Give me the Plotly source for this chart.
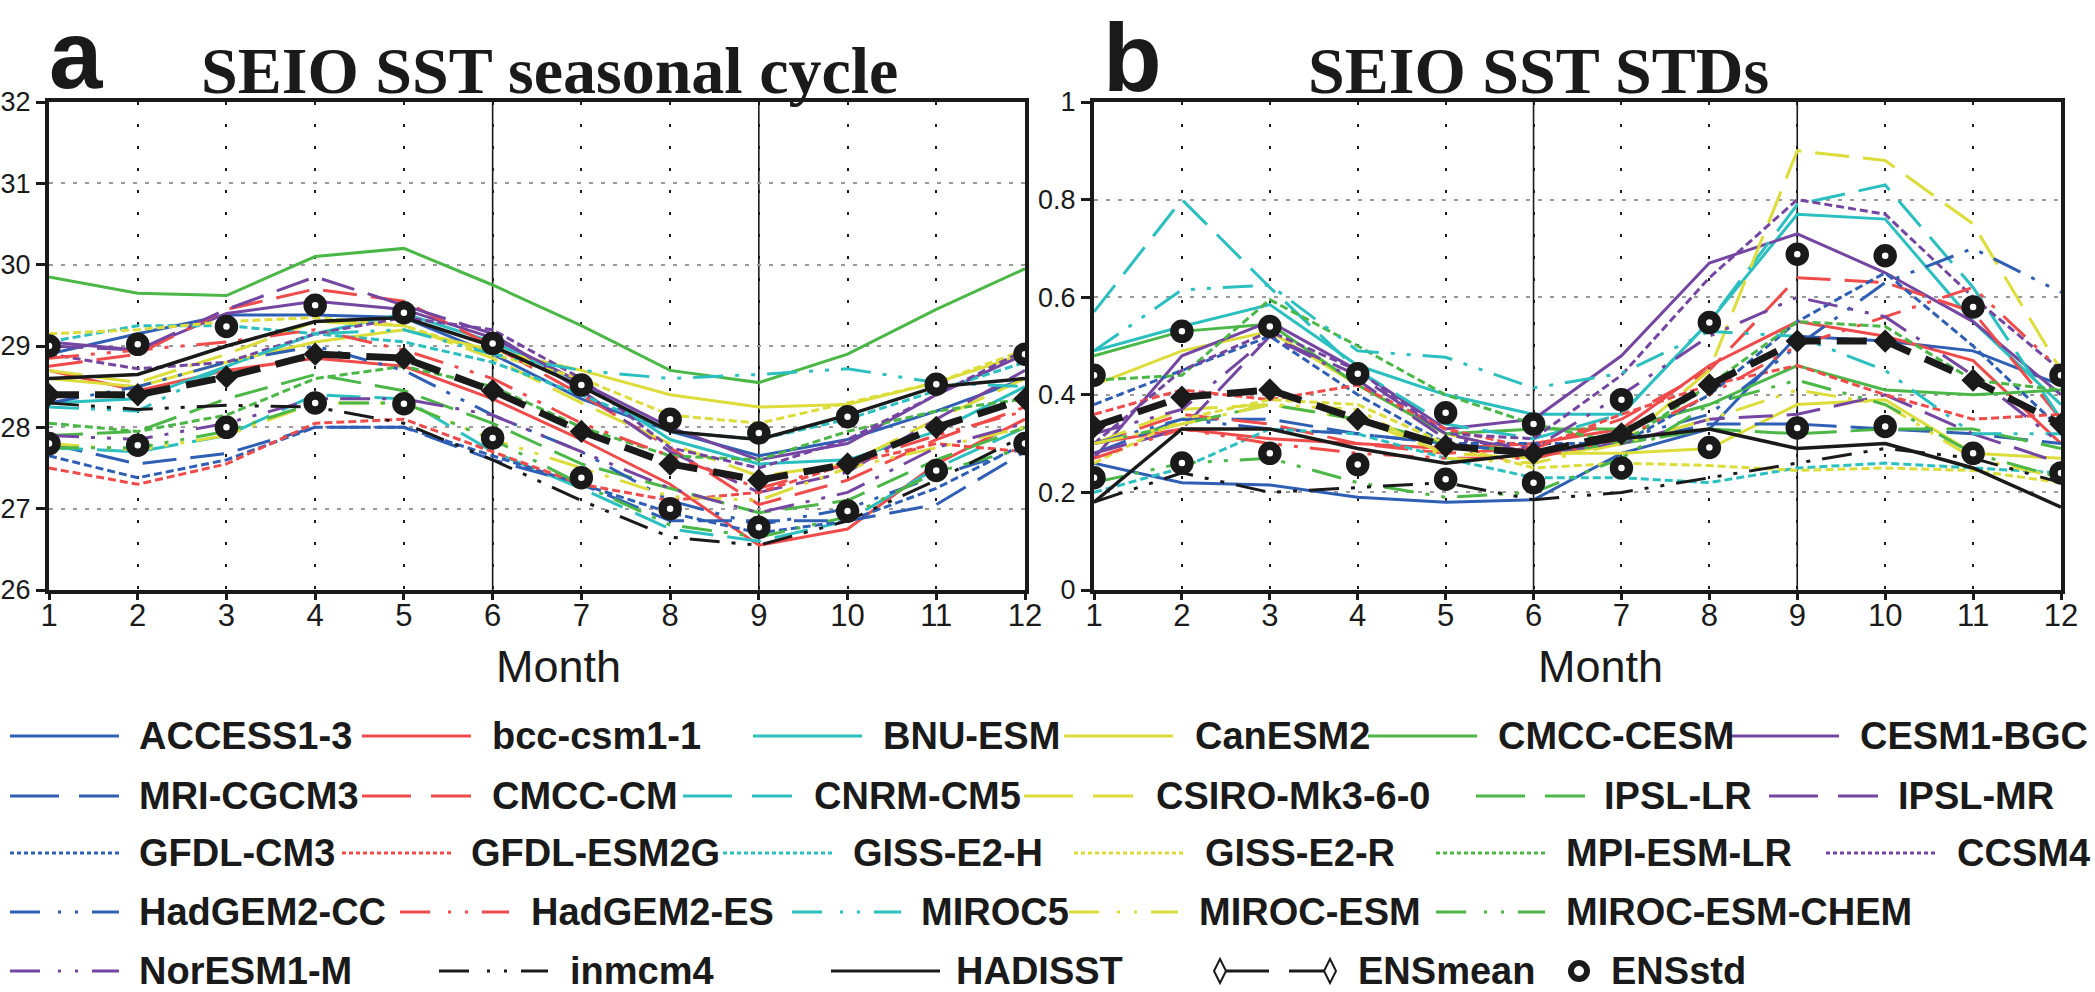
import plotly.graph_objects as go

W, H = 2095, 992
months = list(range(1, 13))

# ---------------- Panel a: SEIO SST seasonal cycle (degC) ----------------
cyc_ACCESS1_3 = [28.9, 29.15, 29.38, 29.38, 29.35, 28.9, 28.35, 27.95, 27.65, 27.85, 28.2, 28.6]
cyc_bcc_csm1_1 = [28.7, 28.45, 28.7, 28.85, 28.75, 28.35, 27.85, 27.3, 26.55, 26.75, 27.55, 28.1]
cyc_BNU_ESM = [28.3, 28.35, 28.75, 29.15, 29.4, 29.05, 28.55, 27.85, 27.55, 27.6, 27.95, 28.5]
cyc_CanESM2 = [28.6, 28.5, 28.8, 29.05, 29.2, 28.95, 28.7, 28.4, 28.25, 28.28, 28.55, 28.9]
cyc_CMCC_CESM = [29.85, 29.65, 29.62, 30.1, 30.2, 29.75, 29.25, 28.7, 28.55, 28.9, 29.45, 29.95]
cyc_CESM1_BGC = [29.05, 28.95, 29.4, 29.55, 29.45, 29.1, 28.55, 28.0, 27.6, 27.8, 28.4, 28.9]
cyc_MRI_CGCM3 = [27.8, 27.55, 27.68, 28.0, 28.0, 27.6, 27.3, 26.85, 26.85, 26.85, 27.05, 27.7]
cyc_CMCC_CM = [28.75, 28.9, 29.45, 29.7, 29.55, 29.0, 28.4, 27.75, 27.05, 27.35, 27.85, 28.25]
cyc_CNRM_CM5 = [27.75, 27.7, 27.9, 28.4, 28.35, 27.7, 27.25, 26.75, 26.6, 26.85, 27.5, 28.0]
cyc_CSIRO_Mk3_6_0 = [28.7, 28.55, 28.9, 29.3, 29.25, 28.85, 28.3, 27.8, 27.4, 27.55, 28.1, 28.6]
cyc_IPSL_LR = [27.9, 27.95, 28.35, 28.65, 28.45, 28.05, 27.55, 27.25, 26.95, 27.1, 27.6, 28.0]
cyc_IPSL_MR = [29.0, 28.95, 29.45, 29.85, 29.5, 29.15, 28.45, 27.7, 27.2, 27.45, 28.1, 28.7]
cyc_GFDL_CM3 = [27.65, 27.38, 27.6, 28.0, 28.0, 27.65, 27.3, 26.95, 26.7, 26.85, 27.25, 27.8]
cyc_GFDL_ESM2G = [27.5, 27.3, 27.55, 28.05, 28.1, 27.7, 27.3, 27.1, 27.2, 27.55, 27.8, 27.7]
cyc_GISS_E2_H = [29.05, 29.25, 29.25, 29.15, 29.05, 28.8, 28.4, 27.95, 27.85, 28.1, 28.45, 28.8]
cyc_GISS_E2_R = [29.15, 29.2, 29.3, 29.35, 29.25, 28.9, 28.6, 28.15, 28.05, 28.3, 28.55, 28.95]
cyc_MPI_ESM_LR = [28.05, 27.95, 28.15, 28.6, 28.75, 28.5, 28.0, 27.65, 27.6, 27.95, 28.2, 28.35]
cyc_CCSM4 = [28.9, 28.72, 28.8, 29.15, 29.35, 29.2, 28.6, 27.75, 27.5, 27.85, 28.4, 28.95]
cyc_HadGEM2_CC = [28.3, 28.5, 28.8, 29.0, 28.7, 28.15, 27.7, 27.1, 26.8, 27.0, 27.4, 27.75]
cyc_HadGEM2_ES = [28.85, 28.95, 29.05, 29.2, 28.95, 28.6, 28.05, 27.65, 27.25, 27.55, 27.9, 28.2]
cyc_MIROC5 = [28.25, 28.2, 28.75, 29.15, 29.2, 28.9, 28.7, 28.6, 28.65, 28.72, 28.55, 28.5]
cyc_MIROC_ESM = [27.8, 27.72, 27.9, 28.3, 28.3, 27.85, 27.5, 27.15, 27.1, 27.5, 27.75, 28.0]
cyc_MIROC_ESM_CHEM = [27.75, 27.75, 27.95, 28.3, 28.3, 27.85, 27.3, 26.8, 26.65, 26.9, 27.45, 27.75]
cyc_NorESM1_M = [27.9, 27.85, 28.05, 28.35, 28.35, 28.15, 27.7, 27.25, 26.95, 27.2, 27.75, 28.05]
cyc_inmcm4 = [28.3, 28.22, 28.27, 28.25, 28.05, 27.6, 27.1, 26.65, 26.55, 26.85, 27.35, 27.9]
cyc_HADISST = [28.6, 28.65, 29.0, 29.3, 29.35, 29.0, 28.5, 27.95, 27.85, 28.15, 28.5, 28.6]
cyc_ENSmean = [28.4, 28.4, 28.62, 28.9, 28.85, 28.45, 27.95, 27.55, 27.35, 27.55, 28.0, 28.35]
cyc_ENSstd = [0.6, 0.62, 0.62, 0.6, 0.56, 0.58, 0.57, 0.55, 0.58, 0.58, 0.53, 0.55]

# ---------------- Panel b: SEIO SST STDs ----------------
std_ACCESS1_3 = [0.26, 0.22, 0.215, 0.19, 0.18, 0.185, 0.28, 0.33, 0.52, 0.51, 0.49, 0.42]
std_bcc_csm1_1 = [0.3, 0.33, 0.31, 0.3, 0.29, 0.3, 0.33, 0.46, 0.55, 0.52, 0.47, 0.3]
std_BNU_ESM = [0.49, 0.54, 0.585, 0.46, 0.4, 0.36, 0.36, 0.55, 0.77, 0.76, 0.55, 0.38]
std_CanESM2 = [0.42, 0.49, 0.53, 0.42, 0.32, 0.28, 0.28, 0.29, 0.38, 0.39, 0.28, 0.27]
std_CMCC_CESM = [0.48, 0.53, 0.545, 0.42, 0.32, 0.33, 0.33, 0.38, 0.46, 0.41, 0.40, 0.41]
std_CESM1_BGC = [0.27, 0.48, 0.55, 0.45, 0.33, 0.35, 0.48, 0.67, 0.73, 0.65, 0.55, 0.4]
std_MRI_CGCM3 = [0.28, 0.35, 0.35, 0.32, 0.3, 0.28, 0.3, 0.34, 0.34, 0.33, 0.32, 0.3]
std_CMCC_CM = [0.3, 0.36, 0.34, 0.3, 0.28, 0.29, 0.35, 0.45, 0.64, 0.63, 0.57, 0.35]
std_CNRM_CM5 = [0.57, 0.80, 0.62, 0.45, 0.34, 0.31, 0.36, 0.55, 0.79, 0.83, 0.62, 0.35]
std_CSIRO_Mk3_6_0 = [0.3, 0.37, 0.38, 0.35, 0.28, 0.27, 0.3, 0.45, 0.9, 0.88, 0.75, 0.45]
std_IPSL_LR = [0.3, 0.34, 0.38, 0.35, 0.3, 0.28, 0.3, 0.33, 0.32, 0.33, 0.33, 0.29]
std_IPSL_MR = [0.28, 0.33, 0.52, 0.44, 0.32, 0.28, 0.3, 0.35, 0.36, 0.4, 0.32, 0.26]
std_GFDL_CM3 = [0.38, 0.45, 0.52, 0.4, 0.3, 0.3, 0.3, 0.4, 0.55, 0.65, 0.5, 0.33]
std_GFDL_ESM2G = [0.36, 0.41, 0.39, 0.42, 0.33, 0.29, 0.36, 0.42, 0.46, 0.40, 0.35, 0.36]
std_GISS_E2_H = [0.2, 0.25, 0.33, 0.32, 0.27, 0.23, 0.23, 0.22, 0.25, 0.26, 0.25, 0.24]
std_GISS_E2_R = [0.26, 0.35, 0.39, 0.38, 0.3, 0.25, 0.26, 0.255, 0.245, 0.25, 0.245, 0.22]
std_MPI_ESM_LR = [0.43, 0.44, 0.595, 0.5, 0.4, 0.34, 0.3, 0.42, 0.55, 0.54, 0.43, 0.41]
std_CCSM4 = [0.3, 0.45, 0.53, 0.45, 0.32, 0.31, 0.44, 0.64, 0.80, 0.77, 0.6, 0.45]
std_HadGEM2_CC = [0.3, 0.35, 0.33, 0.32, 0.3, 0.28, 0.31, 0.36, 0.5, 0.63, 0.7, 0.61]
std_HadGEM2_ES = [0.27, 0.33, 0.3, 0.28, 0.27, 0.27, 0.31, 0.4, 0.5, 0.56, 0.62, 0.45]
std_MIROC5 = [0.49, 0.615, 0.625, 0.49, 0.477, 0.414, 0.444, 0.53, 0.52, 0.45, 0.32, 0.32]
std_MIROC_ESM = [0.3, 0.34, 0.38, 0.37, 0.27, 0.26, 0.3, 0.35, 0.41, 0.38, 0.27, 0.23]
std_MIROC_ESM_CHEM = [0.22, 0.26, 0.27, 0.22, 0.19, 0.2, 0.27, 0.38, 0.43, 0.38, 0.28, 0.23]
std_NorESM1_M = [0.32, 0.37, 0.52, 0.43, 0.31, 0.29, 0.4, 0.52, 0.6, 0.56, 0.44, 0.3]
std_inmcm4 = [0.18, 0.24, 0.2, 0.21, 0.22, 0.185, 0.2, 0.23, 0.26, 0.29, 0.27, 0.22]
std_HADISST = [0.18, 0.33, 0.33, 0.29, 0.26, 0.28, 0.31, 0.33, 0.29, 0.30, 0.25, 0.17]
std_ENSmean = [0.335, 0.395, 0.41, 0.35, 0.295, 0.28, 0.32, 0.42, 0.51, 0.51, 0.43, 0.34]
std_ENSstd = [0.105, 0.135, 0.13, 0.093, 0.068, 0.06, 0.07, 0.128, 0.178, 0.175, 0.15, 0.1]

# ---------------- styles ----------------
BLUE, RED, CYAN, YELLOW, GREEN, PURPLE, BLACK = (
    "#2f5fb4", "#f04b4b", "#2bbfc0", "#dcdc3a", "#4bb747", "#7446a1", "#1a1a1a")
PLOT_DASH = {"solid": "solid", "long": "34px,14px", "dot": "8px,4px",
             "dd": "30px,12px,4px,12px,4px,12px"}
LEG_DASH = {"solid": "solid", "long": "49px,20px", "dot": "4px,3px",
            "dd": "30px,18px,3px,14px,3px,14px"}

models = [
    ("ACCESS1-3", BLUE, "solid", cyc_ACCESS1_3, std_ACCESS1_3),
    ("bcc-csm1-1", RED, "solid", cyc_bcc_csm1_1, std_bcc_csm1_1),
    ("BNU-ESM", CYAN, "solid", cyc_BNU_ESM, std_BNU_ESM),
    ("CanESM2", YELLOW, "solid", cyc_CanESM2, std_CanESM2),
    ("CMCC-CESM", GREEN, "solid", cyc_CMCC_CESM, std_CMCC_CESM),
    ("CESM1-BGC", PURPLE, "solid", cyc_CESM1_BGC, std_CESM1_BGC),
    ("MRI-CGCM3", BLUE, "long", cyc_MRI_CGCM3, std_MRI_CGCM3),
    ("CMCC-CM", RED, "long", cyc_CMCC_CM, std_CMCC_CM),
    ("CNRM-CM5", CYAN, "long", cyc_CNRM_CM5, std_CNRM_CM5),
    ("CSIRO-Mk3-6-0", YELLOW, "long", cyc_CSIRO_Mk3_6_0, std_CSIRO_Mk3_6_0),
    ("IPSL-LR", GREEN, "long", cyc_IPSL_LR, std_IPSL_LR),
    ("IPSL-MR", PURPLE, "long", cyc_IPSL_MR, std_IPSL_MR),
    ("GFDL-CM3", BLUE, "dot", cyc_GFDL_CM3, std_GFDL_CM3),
    ("GFDL-ESM2G", RED, "dot", cyc_GFDL_ESM2G, std_GFDL_ESM2G),
    ("GISS-E2-H", CYAN, "dot", cyc_GISS_E2_H, std_GISS_E2_H),
    ("GISS-E2-R", YELLOW, "dot", cyc_GISS_E2_R, std_GISS_E2_R),
    ("MPI-ESM-LR", GREEN, "dot", cyc_MPI_ESM_LR, std_MPI_ESM_LR),
    ("CCSM4", PURPLE, "dot", cyc_CCSM4, std_CCSM4),
    ("HadGEM2-CC", BLUE, "dd", cyc_HadGEM2_CC, std_HadGEM2_CC),
    ("HadGEM2-ES", RED, "dd", cyc_HadGEM2_ES, std_HadGEM2_ES),
    ("MIROC5", CYAN, "dd", cyc_MIROC5, std_MIROC5),
    ("MIROC-ESM", YELLOW, "dd", cyc_MIROC_ESM, std_MIROC_ESM),
    ("MIROC-ESM-CHEM", GREEN, "dd", cyc_MIROC_ESM_CHEM, std_MIROC_ESM_CHEM),
    ("NorESM1-M", PURPLE, "dd", cyc_NorESM1_M, std_NorESM1_M),
    ("inmcm4", BLACK, "dd", cyc_inmcm4, std_inmcm4),
]
style = {m[0]: (m[1], m[2]) for m in models}
style["HADISST"] = (BLACK, "solid")


def px_x(p):
    return p / W


def px_y(p):
    return 1 - p / H


fig = go.Figure()

panels = [("x", "y", cyc_HADISST, cyc_ENSmean, cyc_ENSstd),
          ("x2", "y2", std_HADISST, std_ENSmean, std_ENSstd)]
for xa, ya, obs, ensm, enss in panels:
    for name, color, dash, cyc, sd in models:
        vals = cyc if xa == "x" else sd
        fig.add_trace(go.Scatter(x=months, y=vals, mode="lines", name=name,
                                 xaxis=xa, yaxis=ya, showlegend=False,
                                 line=dict(color=color, width=3, dash=PLOT_DASH[dash])))
    fig.add_trace(go.Scatter(x=months, y=obs, mode="lines", name="HADISST",
                             xaxis=xa, yaxis=ya, showlegend=False,
                             line=dict(color=BLACK, width=3.5)))
    fig.add_trace(go.Scatter(x=months, y=ensm, mode="lines+markers", name="ENSmean",
                             xaxis=xa, yaxis=ya, showlegend=False,
                             line=dict(color=BLACK, width=7, dash="30px,16px"),
                             marker=dict(symbol="diamond", size=18, color=BLACK,
                                         line=dict(width=0))))
    upper = [m + s for m, s in zip(ensm, enss)]
    lower = [m - s for m, s in zip(ensm, enss)]
    for arr in (upper, lower):
        fig.add_trace(go.Scatter(x=months, y=arr, mode="markers", name="ENSstd",
                                 xaxis=xa, yaxis=ya, showlegend=False,
                                 marker=dict(symbol="circle", size=15, color="white",
                                             line=dict(color=BLACK, width=8.5))))

axis_common = dict(showline=True, linecolor=BLACK, linewidth=4, mirror=True,
                   ticks="outside", tickcolor=BLACK, tickwidth=3, zeroline=False,
                   automargin=False)
xcommon = dict(axis_common, range=[1, 12], tickvals=months,
               ticktext=[str(m) for m in months], ticklen=6, ticklabelstandoff=-11,
               showgrid=True, gridcolor=BLACK, gridwidth=2, griddash="3px,19px",
               tickfont=dict(family="Liberation Sans, Arial, sans-serif", size=31, color=BLACK))
ycommon = dict(axis_common, ticklen=9, showgrid=True, gridcolor="#9a9a9a",
               gridwidth=2, griddash="4px,8px",
               tickfont=dict(family="Liberation Sans, Arial, sans-serif", size=27, color=BLACK))

yA_ticks = [26, 27, 28, 29, 30, 31, 32]
yB_ticks = [0, 0.2, 0.4, 0.6, 0.8, 1]
yB_text = ["0", "0.2", "0.4", "0.6", "0.8", "1"]

fig.update_layout(
    width=W, height=H, autosize=False,
    margin=dict(l=0, r=0, t=0, b=0, pad=0, autoexpand=False),
    paper_bgcolor="white", plot_bgcolor="white", showlegend=False,
    xaxis=dict(xcommon, domain=[px_x(49), px_x(1025)], anchor="y"),
    yaxis=dict(ycommon, domain=[px_y(590), px_y(102)], range=[26, 32],
               tickvals=yA_ticks, ticktext=[str(v) for v in yA_ticks], anchor="x"),
    xaxis2=dict(xcommon, domain=[px_x(1094), px_x(2061)], anchor="y2"),
    yaxis2=dict(ycommon, domain=[px_y(590), px_y(102)], range=[0, 1],
                tickvals=yB_ticks, ticktext=yB_text, anchor="x2"),
)

# solid reference month lines
solid_ref_months = [6, 9]
shapes = []
for xr, yr in (("x", "y domain"), ("x2", "y2 domain")):
    for m in solid_ref_months:
        shapes.append(dict(type="line", xref=xr, yref=yr, x0=m, x1=m, y0=0, y1=1,
                           layer="below", line=dict(color=BLACK, width=1.6)))

annotations = []
TITLE_FONT = "Liberation Serif, Times New Roman, serif"
SANS = "Liberation Sans, Arial, sans-serif"
annotations += [
    dict(text="<b>a</b>", x=px_x(47), y=px_y(55), xanchor="left", yanchor="middle",
         font=dict(family=SANS, size=96, color=BLACK)),
    dict(text="<b>b</b>", x=px_x(1101), y=px_y(57), xanchor="left", yanchor="middle",
         font=dict(family=SANS, size=96, color=BLACK)),
    dict(text="<b>SEIO SST seasonal cycle</b>", x=px_x(549), y=px_y(71),
         xanchor="center", yanchor="middle", font=dict(family=TITLE_FONT, size=66, color=BLACK)),
    dict(text="<b>SEIO SST STDs</b>", x=px_x(1538), y=px_y(71),
         xanchor="center", yanchor="middle", font=dict(family=TITLE_FONT, size=66, color=BLACK)),
    dict(text="Month", x=px_x(558), y=px_y(666), xanchor="center", yanchor="middle",
         font=dict(family=SANS, size=45, color=BLACK)),
    dict(text="Month", x=px_x(1600), y=px_y(666), xanchor="center", yanchor="middle",
         font=dict(family=SANS, size=45, color=BLACK)),
]

# ---------------- legend (drawn as decorations) ----------------
legend_rows_y = [736, 796, 853, 912, 971]
legend_rows = [
    [("ACCESS1-3", 10, 137), ("bcc-csm1-1", 362, 490), ("BNU-ESM", 753, 881),
     ("CanESM2", 1064, 1193), ("CMCC-CESM", 1368, 1496), ("CESM1-BGC", 1730, 1858)],
    [("MRI-CGCM3", 10, 137), ("CMCC-CM", 362, 490), ("CNRM-CM5", 683, 812),
     ("CSIRO-Mk3-6-0", 1024, 1154), ("IPSL-LR", 1476, 1602), ("IPSL-MR", 1769, 1896)],
    [("GFDL-CM3", 10, 137), ("GFDL-ESM2G", 342, 469), ("GISS-E2-H", 723, 851),
     ("GISS-E2-R", 1074, 1203), ("MPI-ESM-LR", 1436, 1564), ("CCSM4", 1826, 1955)],
    [("HadGEM2-CC", 10, 137), ("HadGEM2-ES", 400, 529), ("MIROC5", 792, 919),
     ("MIROC-ESM", 1069, 1197), ("MIROC-ESM-CHEM", 1436, 1564)],
    [("NorESM1-M", 10, 137), ("inmcm4", 439, 568), ("HADISST", 831, 954)],
]
LEG_FONT = dict(family=SANS, size=38, color=BLACK)
for ry, row in zip(legend_rows_y, legend_rows):
    for name, lx, tx in row:
        color, dash = style[name]
        shapes.append(dict(type="line", xref="paper", yref="paper",
                           x0=px_x(lx), x1=px_x(lx + 109), y0=px_y(ry), y1=px_y(ry),
                           line=dict(color=color, width=3, dash=LEG_DASH[dash])))
        annotations.append(dict(text="<b>%s</b>" % name, x=px_x(tx), y=px_y(ry),
                                xanchor="left", yanchor="middle", showarrow=False,
                                font=LEG_FONT))

# ENSmean legend glyph: open diamonds joined by a black line with a gap
ry = legend_rows_y[4]
for x0, x1 in ((1220, 1269), (1289, 1330)):
    shapes.append(dict(type="line", xref="paper", yref="paper", x0=px_x(x0), x1=px_x(x1),
                       y0=px_y(ry), y1=px_y(ry), line=dict(color=BLACK, width=3)))
for cx in (1220, 1330):
    path = "M %f,%f L %f,%f L %f,%f L %f,%f Z" % (
        px_x(cx), px_y(ry - 12), px_x(cx + 6), px_y(ry), px_x(cx), px_y(ry + 12),
        px_x(cx - 6), px_y(ry))
    shapes.append(dict(type="path", xref="paper", yref="paper", path=path,
                       fillcolor="white", line=dict(color=BLACK, width=2)))
annotations.append(dict(text="<b>ENSmean</b>", x=px_x(1356), y=px_y(ry), xanchor="left",
                        yanchor="middle", showarrow=False, font=LEG_FONT))
shapes.append(dict(type="circle", xref="paper", yref="paper",
                   x0=px_x(1571), x1=px_x(1587), y0=px_y(ry - 8), y1=px_y(ry + 8),
                   fillcolor="white", line=dict(color=BLACK, width=6)))
annotations.append(dict(text="<b>ENSstd</b>", x=px_x(1609), y=px_y(ry), xanchor="left",
                        yanchor="middle", showarrow=False, font=LEG_FONT))

for a in annotations:
    a.setdefault("showarrow", False)
    a.setdefault("xref", "paper")
    a.setdefault("yref", "paper")

fig.update_layout(shapes=shapes, annotations=annotations)
fig.write_html("out.html",
               config={"displayModeBar": False},
               post_script="document.body.style.margin='0px';"
                           "document.body.style.overflow='hidden';")
